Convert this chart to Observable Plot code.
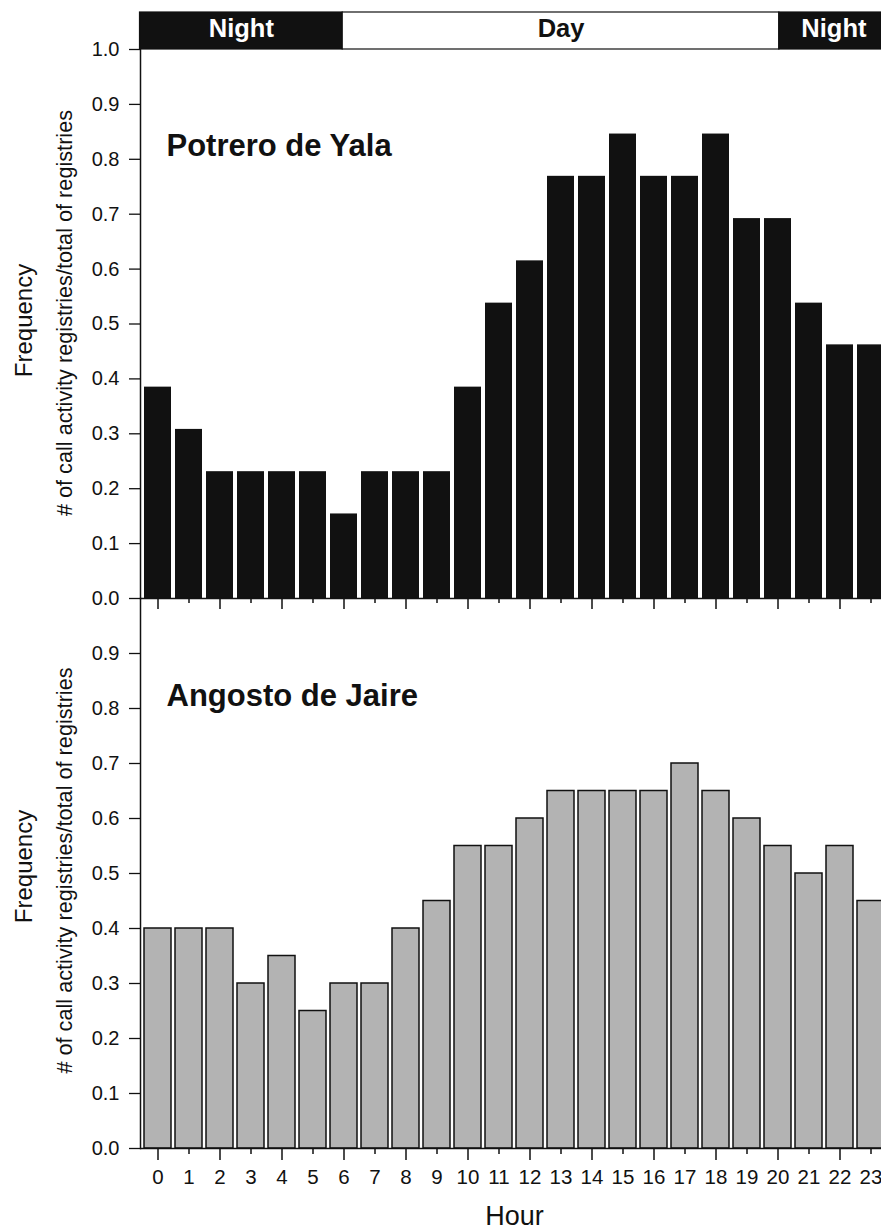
<!DOCTYPE html>
<html>
<head>
<meta charset="utf-8">
<script src="https://cdn.jsdelivr.net/npm/d3@7"></script>
<script src="https://cdn.jsdelivr.net/npm/@observablehq/plot@0.6"></script>
<style>
  html, body { margin: 0; padding: 0; background: #fff; overflow: hidden; }
  #wrap { position: relative; width: 881px; height: 1230px; overflow: hidden; font-family: "Liberation Sans", Arial, sans-serif; }
  #wrap svg { position: absolute; left: 0; }
</style>
</head>
<body>
<div id="wrap"></div>
<script>
// ---- data ----
const hours = [0,1,2,3,4,5,6,7,8,9,10,11,12,13,14,15,16,17,18,19,20,21,22,23];
const yalaValues = [0.385,0.308,0.231,0.231,0.231,0.231,0.154,0.231,0.231,0.231,0.385,0.538,0.615,0.769,0.769,0.846,0.769,0.769,0.846,0.692,0.692,0.538,0.462,0.462];
const jaireValues = [0.40,0.40,0.40,0.30,0.35,0.25,0.30,0.30,0.40,0.45,0.55,0.55,0.60,0.65,0.65,0.65,0.65,0.70,0.65,0.60,0.55,0.50,0.55,0.45];
const periodLabels = ["Night","Day","Night"];
const periodStart = [-0.5, 6, 20];
const periodEnd = [6, 20, 23.5];
const topYTicks = [0,0.1,0.2,0.3,0.4,0.5,0.6,0.7,0.8,0.9,1.0];
const bottomYTicks = [0,0.1,0.2,0.3,0.4,0.5,0.6,0.7,0.8,0.9];
const majorHours = hours.filter(h => h % 2 === 0);
const minorHours = hours.filter(h => h % 2 === 1);
const panelTitles = ["Potrero de Yala", "Angosto de Jaire"];
const yLabel = "Frequency";
const ySubLabel = "# of call activity registries/total of registries";
const xLabel = "Hour";

const yala = hours.map((h, i) => ({hour: h, value: yalaValues[i]}));
const jaire = hours.map((h, i) => ({hour: h, value: jaireValues[i]}));
const periods = periodLabels.map((l, i) => ({label: l, from: periodStart[i], to: periodEnd[i]}));

const FONT = '"Liberation Sans", Arial, sans-serif';
const INK = "#111";
const W = 888;
const baseStyle = {background: "transparent", overflow: "visible", maxWidth: "none", fontFamily: FONT, color: INK};
const xBand = {type: "band", domain: hours, paddingInner: 0.13, paddingOuter: 0.065, axis: null};

const wrap = document.getElementById("wrap");

// ---- Night / Day band ----
const bandChart = Plot.plot({
  width: W, height: 49, marginTop: 12, marginBottom: 0, marginLeft: 139.5, marginRight: 0,
  style: baseStyle,
  x: {domain: [-0.5, 23.5], axis: null},
  y: {domain: [0, 1], axis: null},
  marks: [
    Plot.rect(periods, {x1: "from", x2: "to", y1: 0, y2: 1, fill: d => d.label === "Night" ? INK : "white", stroke: INK, strokeWidth: 1.2}),
    Plot.text(periods, {x: d => (d.from + d.to) / 2, y: 0.5, text: "label", fill: d => d.label === "Night" ? "white" : INK,
      fontWeight: "bold", fontSize: 25.5, dy: -2})
  ]
});
bandChart.style.top = "0px";

function panel(data, yTicks, opts) {
  return Plot.plot({
    width: W, height: opts.height, marginTop: opts.marginTop, marginBottom: opts.marginBottom, marginLeft: 140, marginRight: 0,
    style: baseStyle,
    x: xBand,
    y: {domain: [0, 1], axis: null},
    marks: [
      Plot.barY(data, {x: "hour", y: "value", ...opts.barStyle}),
      Plot.axisY(yTicks, {tickSize: 11, tickPadding: 10, tickFormat: ".1f", fontSize: 20, label: null, strokeWidth: 1.3}),
      Plot.axisX(majorHours, {tickSize: opts.major, tickFormat: () => "", label: null, strokeWidth: 1.5}),
      Plot.axisX(minorHours, {tickSize: opts.minor, tickFormat: () => "", label: null, strokeWidth: 1.5}),
      ...(opts.labels ? [Plot.axisX(hours, {tickSize: 0, tickPadding: 21, fontSize: 20.5, label: null})] : []),
      Plot.ruleY([0], {stroke: INK, strokeWidth: 1.5}),
      Plot.frame({anchor: "left", stroke: INK, strokeWidth: 1.5}),
      Plot.text([yLabel], {text: d => d, frameAnchor: "left", textAnchor: "middle", lineAnchor: "middle", rotate: -90,
        dx: -116, dy: opts.freqDy, fontSize: 24, fill: INK}),
      Plot.text([ySubLabel], {text: d => d, frameAnchor: "left", textAnchor: "middle", lineAnchor: "middle", rotate: -90,
        dx: -75, dy: opts.subDy, fontSize: 21.7, fill: INK}),
      Plot.text([opts.title], {text: d => d, frameAnchor: "top-left", textAnchor: "start", lineAnchor: "middle", dx: 26, dy: opts.titleDy,
        fontSize: 31, fontWeight: "bold", fill: INK}),
      ...(opts.xLabel ? [Plot.text([opts.xLabel], {text: d => d, frameAnchor: "bottom", textAnchor: "middle", lineAnchor: "middle", dy: 68, fontSize: 27, fill: INK})] : [])
    ]
  });
}

const topChart = panel(yala, topYTicks, {
  height: 620, marginTop: 49, marginBottom: 22, barStyle: {fill: INK},
  major: 11, minor: 5, labels: false, title: panelTitles[0], titleDy: 97, freqDy: -3.5, subDy: -11
});
topChart.style.top = "0px";

const bottomChart = panel(jaire, bottomYTicks, {
  height: 672, marginTop: 40, marginBottom: 82, barStyle: {fill: "#b3b3b3", stroke: INK, strokeWidth: 1.5},
  major: 12, minor: 6, labels: true, title: panelTitles[1], titleDy: 98, freqDy: -7, subDy: -3, xLabel: xLabel
});
bottomChart.style.top = "558px";

wrap.appendChild(topChart);
wrap.appendChild(bottomChart);
wrap.appendChild(bandChart);
</script>
</body>
</html>
